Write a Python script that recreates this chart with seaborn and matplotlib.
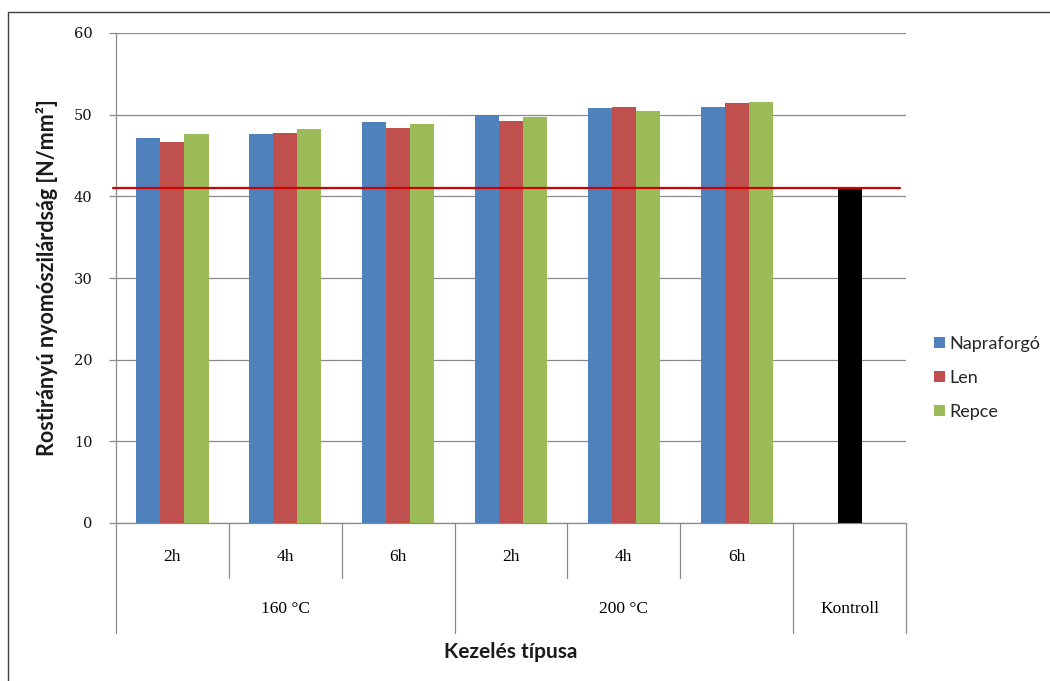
import matplotlib
matplotlib.use("Agg")
import matplotlib.pyplot as plt
import seaborn as sns
import pandas as pd
from matplotlib.lines import Line2D
from matplotlib.patches import Patch

# --- data -------------------------------------------------------------
temperatures = ["160 °C", "200 °C"]
durations = ["2h", "4h", "6h"]
series_names = ["Napraforgó", "Len", "Repce"]
napraforgo = [47.1, 47.6, 49.1, 50.0, 50.8, 51.0]
len_values = [46.7, 47.7, 48.4, 49.2, 51.0, 51.4]
repce = [47.6, 48.3, 48.9, 49.7, 50.4, 51.6]
kontroll_label = "Kontroll"
kontroll_value = 41.0
y_ticks = [0, 10, 20, 30, 40, 50, 60]

series_colors = ["#4F81BD", "#C0504D", "#9BBB59"]

# --- long table for seaborn --------------------------------------------
treatments = [f"{t} {d}" for t in temperatures for d in durations]
order = treatments + [kontroll_label]
rows = []
for name, vals in zip(series_names, [napraforgo, len_values, repce]):
    for tr, v in zip(treatments, vals):
        rows.append({"kezeles": tr, "sorozat": name, "ertek": v})
df = pd.DataFrame(rows)
df_k = pd.DataFrame({"kezeles": [kontroll_label], "ertek": [kontroll_value]})

sns.set_theme(style="white")
plt.rcParams["font.family"] = ["Lato", "DejaVu Sans"]

W, H = 1050, 681
fig = plt.figure(figsize=(W / 100, H / 100), dpi=100)
x0, x1, y0, y1 = 116, 906, 523, 33
ax = fig.add_axes([x0 / W, 1 - y0 / H, (x1 - x0) / W, (y0 - y1) / H])

sns.barplot(data=df, x="kezeles", y="ertek", hue="sorozat", order=order,
            hue_order=series_names, palette=series_colors, width=0.64,
            saturation=1, linewidth=0, legend=False, ax=ax, zorder=3)
sns.barplot(data=df_k, x="kezeles", y="ertek", order=order, color="black",
            width=0.213, saturation=1, linewidth=0, ax=ax, zorder=3)

# reference line at the control value
ax.axhline(kontroll_value, xmin=-0.004, xmax=0.992, color="#D00000", lw=1.6,
           zorder=4, clip_on=False)

ax.set_xlim(-0.5, len(order) - 0.5)
ax.set_ylim(0, 60)
ax.set_yticks(y_ticks)
ax.set_yticklabels([str(v) for v in y_ticks], family=["DejaVu Serif"],
                   fontsize=10.5, color="#111111")
ax.yaxis.grid(True, color="#8a8a8a", lw=0.9, zorder=0)
ax.set_axisbelow(True)
ax.tick_params(axis="y", which="major", length=5, width=0.9, color="#8a8a8a",
               pad=12, left=True)
ax.tick_params(axis="x", bottom=False, labelbottom=False)
for side in ["top", "right"]:
    ax.spines[side].set_visible(False)
for side in ["left", "bottom"]:
    ax.spines[side].set_color("#8a8a8a")
    ax.spines[side].set_linewidth(0.9)
ax.set_xlabel("")
ax.set_ylabel("")
ax.text(-0.0873, 0.5, "Rostirányú nyomószilárdság [N/mm²]",
        transform=ax.transAxes, rotation=90, ha="center", va="center",
        fontsize=15.5, fontweight="bold", color="#1a1a1a")

# --- two-level category axis -------------------------------------------
trans = ax.get_xaxis_transform()
px = 1.0 / (y0 - y1)  # one pixel in axes fraction
short_depth = -55 * px
long_depth = -110 * px
cat_font = dict(family=["Liberation Serif", "DejaVu Serif"], fontsize=12.5,
                color="#000000", ha="center", va="center")
for i, tr in enumerate(treatments):
    ax.text(i, -34 * px, tr.split()[-1], transform=trans, **cat_font)
for i, t in enumerate(temperatures):
    ax.text(i * 3 + 1, -86 * px, t, transform=trans, **cat_font)
ax.text(len(order) - 1, -86 * px, kontroll_label, transform=trans, **cat_font)

for xb in [0.5, 1.5, 3.5, 4.5]:
    ax.add_line(Line2D([xb, xb], [0, short_depth], transform=trans,
                       color="#8a8a8a", lw=0.9, clip_on=False))
for xb in [-0.5, 2.5, 5.5, 6.5]:
    ax.add_line(Line2D([xb, xb], [0, long_depth], transform=trans,
                       color="#8a8a8a", lw=0.9, clip_on=False))

ax.text(0.5, -129 * px, "Kezelés típusa", transform=ax.transAxes,
        ha="center", va="center", fontsize=15, fontweight="bold",
        color="#1a1a1a")

# --- legend -------------------------------------------------------------
handles = [Patch(facecolor=c, edgecolor="none", label=n)
           for c, n in zip(series_colors, series_names)]
fig.legend(handles=handles, loc="center left",
           bbox_to_anchor=(934 / W, 1 - 378 / H), frameon=False,
           borderpad=0, borderaxespad=0,
           fontsize=13, handlelength=0.6, handleheight=0.6,
           handletextpad=0.25, labelspacing=1.0)

# --- outer frame (left and top edges) ---------------------------------
fig.add_artist(Line2D([8 / W, 8 / W], [1 - 12 / H, 0], color="#404040", lw=1.0))
fig.add_artist(Line2D([8 / W, 1], [1 - 12 / H, 1 - 12 / H], color="#404040", lw=1.0))

fig.savefig("out.png", dpi=100, facecolor="white")
